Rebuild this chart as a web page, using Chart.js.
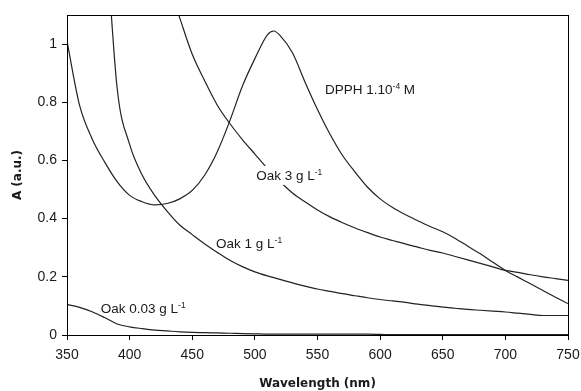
<!DOCTYPE html>
<html>
<head>
<meta charset="utf-8">
<script src="https://cdn.jsdelivr.net/npm/chart.js@4.4.1/dist/chart.umd.min.js"></script>
<style>
  html, body { margin: 0; padding: 0; background: #fff; }
  #wrap { width: 581px; height: 391px; }
</style>
</head>
<body>
<div id="wrap"><canvas id="spectra"></canvas></div>
<script>
// wavelength grid (nm), 515 added to catch the DPPH maximum
const wavelengths = [350, 360, 370, 380, 390, 400, 410, 420, 430, 440, 450, 460, 470, 480, 490, 500, 510, 515, 520,
  530, 540, 550, 560, 570, 580, 590, 600, 610, 620, 630, 640, 650, 660, 670, 680, 690, 700, 710, 720, 730, 740, 750];

// absorbance (null = not drawn / off the top)
const dpph = [1.01, 0.79, 0.675, 0.595, 0.527, 0.48, 0.458, 0.447, 0.452, 0.468, 0.497, 0.55, 0.63, 0.736, 0.855, 0.95, 1.032, 1.045, 1.03,
  0.97, 0.87, 0.775, 0.69, 0.617, 0.56, 0.508, 0.468, 0.438, 0.414, 0.393, 0.373, 0.355, 0.332, 0.305, 0.279, 0.25, 0.222, 0.199, 0.176, 0.153, 0.13, 0.108];
const oak3 = [null, null, null, null, null, null, null, null, 1.22, 1.09, 0.965, 0.873, 0.79, 0.727, 0.672, 0.622, 0.572, 0.55, 0.528,
  0.488, 0.458, 0.43, 0.406, 0.386, 0.368, 0.352, 0.337, 0.325, 0.313, 0.302, 0.291, 0.282, 0.27, 0.258, 0.246, 0.234, 0.222, 0.215, 0.207, 0.2, 0.194, 0.188];
const oak1 = [null, null, null, 1.45, 0.85, 0.655, 0.55, 0.48, 0.425, 0.378, 0.345, 0.313, 0.284, 0.257, 0.235, 0.217, 0.203, 0.197, 0.191,
  0.179, 0.168, 0.158, 0.15, 0.142, 0.135, 0.128, 0.122, 0.117, 0.112, 0.106, 0.101, 0.096, 0.092, 0.088, 0.085, 0.082, 0.079, 0.075, 0.071, 0.067, 0.067, 0.067];
const oak003 = [0.105, 0.095, 0.08, 0.06, 0.038, 0.028, 0.022, 0.017, 0.014, 0.011, 0.009, 0.008, 0.007, 0.006, 0.005, 0.004, 0.003, 0.003, 0.003,
  0.003, 0.003, 0.003, 0.003, 0.003, 0.003, 0.003, 0.002, 0.001, 0.001, 0.001, 0.001, 0.001, 0.001, 0.001, 0.001, 0.001, 0.001, 0.001, 0.001, 0.001, 0.001, 0.001];

const seriesNames = ['DPPH 1.10-4 M', 'Oak 3 g L-1', 'Oak 1 g L-1', 'Oak 0.03 g L-1'];
const xTicks = [350, 400, 450, 500, 550, 600, 650, 700, 750];
const yTicks = [0, 0.2, 0.4, 0.6, 0.8, 1];

// in-plot curve labels: text, superscript, trailing text, anchor (nm, A) at the baseline start
const curveLabels = [
  { text: 'DPPH 1.10', sup: '-4', tail: ' M', wl: 556, a: 0.829, mask: false },
  { text: 'Oak 3 g L', sup: '-1', tail: '', wl: 501, a: 0.533, mask: true },
  { text: 'Oak 1 g L', sup: '-1', tail: '', wl: 469, a: 0.299, mask: false },
  { text: 'Oak 0.03 g L', sup: '-1', tail: '', wl: 377, a: 0.075, mask: false }
];

const TEXT = '#1a1a1a';
const tickFont = { family: '"Liberation Sans", Arial, sans-serif', size: 14 };
const titleFont = { family: '"DejaVu Sans", sans-serif', size: 12, weight: 'bold' };
const LABEL_FONT = '13.5px "Liberation Sans", Arial, sans-serif';
const SUP_FONT = '8.5px "Liberation Sans", Arial, sans-serif';

function toPoints(values) {
  return wavelengths.map((w, i) => ({ x: w, y: values[i] }));
}

function lineSet(name, values) {
  return {
    label: name,
    data: toPoints(values),
    borderColor: '#222',
    borderWidth: 1.2,
    pointRadius: 0,
    fill: false,
    cubicInterpolationMode: 'monotone'
  };
}

// frame round the plot area + curve labels
const framePlugin = {
  id: 'frame',
  afterDatasetsDraw(chart) {
    const { ctx, chartArea: ca, scales: { x, y } } = chart;
    ctx.save();
    curveLabels.forEach(l => {
      const px = x.getPixelForValue(l.wl);
      const py = y.getPixelForValue(l.a);
      ctx.font = LABEL_FONT;
      const w1 = ctx.measureText(l.text).width;
      const w3 = ctx.measureText(l.tail).width;
      ctx.font = SUP_FONT;
      const w2 = ctx.measureText(l.sup).width;
      if (l.mask) {
        ctx.fillStyle = '#fff';
        ctx.fillRect(px - 4, py - 14, w1 + w2 + w3 + 8, 19);
      }
      ctx.fillStyle = TEXT;
      ctx.textBaseline = 'alphabetic';
      ctx.textAlign = 'left';
      ctx.font = LABEL_FONT;
      ctx.fillText(l.text, px, py);
      ctx.fillText(l.tail, px + w1 + w2, py);
      ctx.font = SUP_FONT;
      ctx.fillText(l.sup, px + w1, py - 5);
    });
    ctx.strokeStyle = '#000';
    ctx.lineWidth = 1;
    ctx.strokeRect(Math.round(ca.left) + 0.5, Math.round(ca.top) + 0.5,
      Math.round(ca.right - ca.left), Math.round(ca.bottom - ca.top));
    ctx.restore();
  }
};

const ctx = document.getElementById('spectra').getContext('2d');
new Chart(ctx, {
  type: 'line',
  data: {
    datasets: [
      lineSet(seriesNames[0], dpph),
      lineSet(seriesNames[1], oak3),
      lineSet(seriesNames[2], oak1),
      lineSet(seriesNames[3], oak003)
    ]
  },
  options: {
    responsive: true,
    maintainAspectRatio: false,
    animation: false,
    layout: { padding: { top: 15, right: 13, left: 0, bottom: 0 } },
    plugins: { legend: { display: false }, tooltip: { enabled: false } },
    scales: {
      x: {
        type: 'linear',
        min: 350,
        max: 750,
        afterBuildTicks: s => { s.ticks = xTicks.map(v => ({ value: v })); },
        afterFit: s => { s.height = 56; s.paddingLeft = 0; s.paddingRight = 0; },
        grid: { display: true, drawOnChartArea: false, drawTicks: true, tickLength: 5, color: '#000' },
        border: { display: true, color: '#000', width: 1 },
        ticks: { color: TEXT, font: tickFont, padding: 7, maxRotation: 0, callback: v => String(v) },
        title: { display: true, text: 'Wavelength (nm)', color: TEXT, font: titleFont, padding: { top: 0, bottom: 0 } }
      },
      y: {
        type: 'linear',
        min: 0,
        max: 1.1,
        afterBuildTicks: s => { s.ticks = yTicks.map(v => ({ value: v })); },
        afterFit: s => { s.width = 67; s.paddingTop = 0; s.paddingBottom = 0; },
        grid: { display: true, drawOnChartArea: false, drawTicks: true, tickLength: 5, color: '#000' },
        border: { display: true, color: '#000', width: 1 },
        ticks: { color: TEXT, font: tickFont, padding: 5, callback: v => String(Math.round(v * 10) / 10) },
        title: { display: true, text: 'A (a.u.)', color: TEXT, font: titleFont, padding: { top: 11, bottom: 0 } }
      }
    }
  },
  plugins: [framePlugin]
});
</script>
</body>
</html>
